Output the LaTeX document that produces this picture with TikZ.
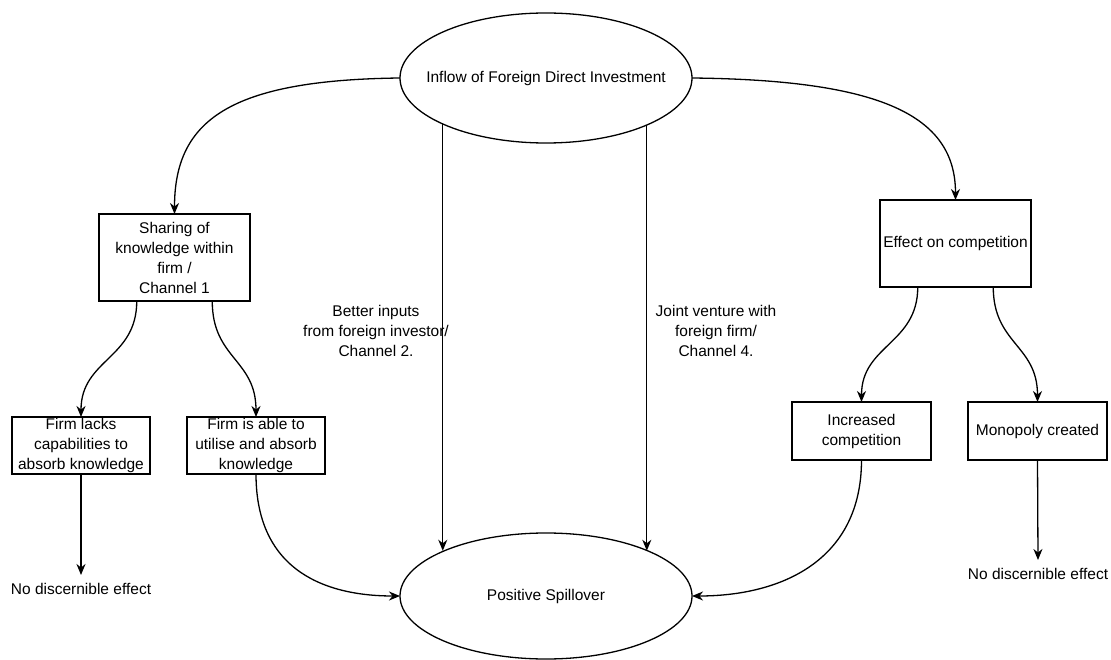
\documentclass[tikz,border=0pt]{standalone}
\usepackage{fontspec}
\setmainfont{Liberation Sans}
\usetikzlibrary{shapes.geometric,arrows.meta,calc}
\begin{document}
\begin{tikzpicture}[x=1pt,y=-1pt,
  font=\fontsize{15.5}{20}\selectfont,
  line width=1.3pt,
  arr/.style={-{Stealth[length=11pt,width=9pt,inset=3.5pt]}},
  oval/.style={draw, ellipse, inner sep=0pt, outer sep=0pt, minimum width=292pt},
  box/.style={draw, rectangle, inner sep=0pt, outer sep=0pt, align=center},
  smallbox/.style={box, minimum width=138pt, minimum height=57pt},
  lbl/.style={inner sep=0pt, align=center}]
\useasboundingbox (0,0) rectangle (1111,660);

\node[oval, minimum height=130pt] (top) at (546,78) {\makebox[0pt]{Inflow of Foreign Direct Investment}};
\node[oval, minimum height=126pt] (bot) at (546,596) {\makebox[0pt]{Positive Spillover}};

\node[box, minimum width=151pt, minimum height=87pt] (share) at (174.5,257.5) {Sharing of\\knowledge within\\firm /\\Channel 1};
\node[smallbox] (lacks) at (81,445.5) {Firm lacks\\capabilities to\\absorb knowledge};
\node[smallbox] (able) at (256,445.5) {Firm is able to\\utilise and absorb\\knowledge};

\node[box, minimum width=151pt, minimum height=87pt] (effect) at (955.5,243.5) {Effect on competition};
\node[box, minimum width=139pt, minimum height=58pt] (incr) at (861.5,431) {Increased\\competition};
\node[box, minimum width=139pt, minimum height=58pt] (mono) at (1037.5,431) {Monopoly created};

\node[lbl] (ch2) at (376,331) {Better inputs\\from foreign investor/\\Channel 2.};
\node[lbl] (ch4) at (716,331) {Joint venture with\\foreign firm/\\Channel 4.};
\node[lbl, anchor=north, inner ysep=8pt] (ne1) at (81,575) {No discernible effect};
\node[lbl, anchor=north, inner ysep=8pt] (ne2) at (1038,560) {No discernible effect};

\draw[arr] (top.west) .. controls (230,80) and (174.5,120) .. (share.north);
\draw[arr] (top.east) .. controls (880,80) and (955.5,115) .. (effect.north);
\draw[arr] (top.204.3) -- (top.204.3 |- bot.156);
\draw[arr] (top.335.7) -- (top.335.7 |- bot.24);

\draw[arr] ($(share.south west)!0.25!(share.south east)$) .. controls +(0,58) and +(0,-58) .. (lacks.north);
\draw[arr] ($(share.south west)!0.75!(share.south east)$) .. controls +(0,58) and +(0,-58) .. (able.north);
\draw[arr] ($(effect.south west)!0.25!(effect.south east)$) .. controls +(0,57) and +(0,-57) .. (incr.north);
\draw[arr] ($(effect.south west)!0.75!(effect.south east)$) .. controls +(0,57) and +(0,-57) .. (mono.north);

\draw[arr] (lacks.south) -- (ne1.north);
\draw[arr] (mono.south) -- (ne2.north);
\draw[arr] (able.south) .. controls +(0,100) and +(-70,0) .. (bot.west);
\draw[arr] (incr.south) .. controls +(0,100) and +(90,0) .. (bot.east);
\end{tikzpicture}
\end{document}
